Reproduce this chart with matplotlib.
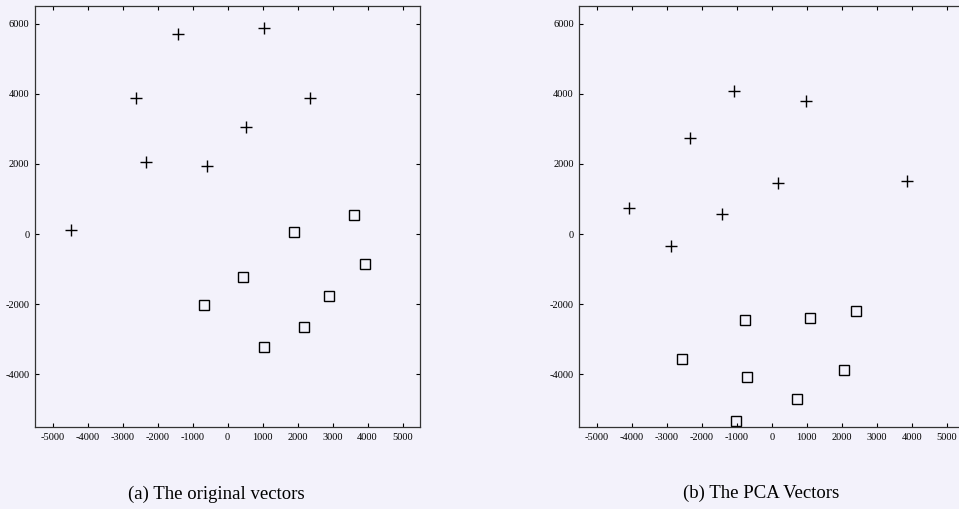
import matplotlib.pyplot as plt

# (a) original vectors: class 1 (+) and class 2 (squares)
orig_plus_x = [-4480, -2620, -2320, -1410, -590, 530, 1040, 2360]
orig_plus_y = [110, 3870, 2070, 5710, 1950, 3060, 5880, 3890]
orig_sq_x = [1890, 3620, 3940, 450, -670, 2890, 2180, 1040]
orig_sq_y = [70, 550, -840, -1210, -2010, -1760, -2640, -3210]

# (b) PCA vectors
pca_plus_x = [-4070, -2870, -2330, -1430, -1070, 190, 980, 3850]
pca_plus_y = [750, -330, 2740, 580, 4080, 1470, 3790, 1510]
pca_sq_x = [-760, 1100, 2420, -2560, -700, 2070, 730, -1020]
pca_sq_y = [-2450, -2390, -2200, -3570, -4080, -3870, -4700, -5320]

x_ticks = [-5000, -4000, -3000, -2000, -1000, 0, 1000, 2000, 3000, 4000, 5000]
y_ticks = [-4000, -2000, 0, 2000, 4000, 6000]

bg = "#f3f2fb"
fig = plt.figure(figsize=(9.59, 5.09), dpi=100, facecolor=bg)


def scatter_panel(ax, px, py, sx, sy):
    ax.set_facecolor(bg)
    ax.plot(px, py, linestyle="none", marker="+", markersize=8,
            markeredgewidth=1.0, color="black")
    ax.plot(sx, sy, linestyle="none", marker="s", markersize=7,
            markeredgewidth=1.0, markerfacecolor="none", color="black")
    ax.set_xlim(-5500, 5500)
    ax.set_ylim(-5500, 6500)
    ax.set_xticks(x_ticks)
    ax.set_yticks(y_ticks)
    ax.set_xticklabels([str(t) for t in x_ticks], family="Liberation Serif",
                       fontsize=7.5)
    ax.set_yticklabels([str(t) for t in y_ticks], family="Liberation Serif",
                       fontsize=7.5)
    ax.tick_params(direction="in", top=True, right=True, length=3,
                   width=0.8, pad=4)
    for s in ax.spines.values():
        s.set_linewidth(0.9)
        s.set_color("#333333")


ax1 = fig.add_axes([0.0365, 0.161, 0.4015, 0.827])
scatter_panel(ax1, orig_plus_x, orig_plus_y, orig_sq_x, orig_sq_y)

ax2 = fig.add_axes([0.604, 0.161, 0.4015, 0.827])
scatter_panel(ax2, pca_plus_x, pca_plus_y, pca_sq_x, pca_sq_y)

fig.text(216 / 959, 1 - 494 / 509, "(a) The original vectors",
         family="Liberation Serif", fontsize=13.5, ha="center", va="center")
fig.text(761 / 959, 1 - 493 / 509, "(b) The PCA Vectors",
         family="Liberation Serif", fontsize=13.5, ha="center", va="center")

fig.savefig("out.png", dpi=100, facecolor=bg)
